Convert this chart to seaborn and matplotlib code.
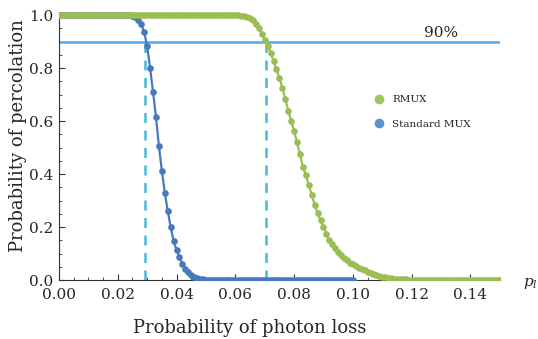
import numpy as np
import pandas as pd
import matplotlib
matplotlib.use("Agg")
import matplotlib.pyplot as plt
from matplotlib.lines import Line2D
import seaborn as sns

# photon loss grid (step 0.001)
loss_std = np.round(np.linspace(0.0, 0.10, 101), 3)
loss_rmux = np.round(np.linspace(0.0, 0.15, 151), 3)

# probability of percolation
perc_std = ([1.0] * 25 +
            [0.998, 0.993, 0.982, 0.966, 0.935, 0.882, 0.800, 0.710, 0.615,
             0.505, 0.412, 0.330, 0.260, 0.200, 0.148, 0.112, 0.088, 0.060,
             0.042, 0.030, 0.020, 0.012, 0.007, 0.004, 0.002, 0.001] +
            [0.0] * 50)
perc_rmux = ([1.0] * 61 +
             [0.999, 0.998, 0.996, 0.993, 0.988, 0.980, 0.968, 0.950, 0.930,
              0.908, 0.884, 0.858, 0.828, 0.796, 0.762, 0.726, 0.684, 0.640,
              0.600, 0.562, 0.520, 0.474, 0.428, 0.395, 0.358, 0.322, 0.285,
              0.252, 0.225, 0.200, 0.175, 0.152, 0.135, 0.120, 0.105, 0.094,
              0.083, 0.074, 0.066, 0.059, 0.053, 0.047, 0.042, 0.037, 0.032,
              0.027, 0.022, 0.018, 0.015, 0.012, 0.010, 0.008, 0.006, 0.005,
              0.004, 0.003, 0.002, 0.002, 0.001, 0.001] +
             [0.0] * 30)

target = 0.9
thresholds = [0.0293, 0.0704]
labels = ["RMUX", "Standard MUX"]
colors = {"RMUX": "#9bbd55", "Standard MUX": "#4a78bd"}
legend_colors = ["#a3c465", "#5d92cf"]

df = pd.concat([
    pd.DataFrame({"loss": loss_std, "perc": perc_std, "scheme": "Standard MUX"}),
    pd.DataFrame({"loss": loss_rmux, "perc": perc_rmux, "scheme": "RMUX"}),
])

sns.set_style("ticks")
plt.rcParams["font.family"] = ["DejaVu Serif"]
plt.rcParams["mathtext.fontset"] = "dejavuserif"

fig = plt.figure(figsize=(5.38, 3.39), dpi=100)
ax = fig.add_axes([0.1097, 0.174, 0.8193, 0.7906])

# blue first so the green curve sits on top along y = 1
sns.lineplot(data=df, x="loss", y="perc", hue="scheme",
             hue_order=["Standard MUX", "RMUX"], palette=colors,
             marker="o", markersize=4.8, markeredgewidth=0,
             linewidth=1.6, legend=False, ax=ax, zorder=3)

ax.axhline(target, color="#4ea8f0", linewidth=1.8, zorder=2)
ax.vlines(thresholds, 0, target, colors="#46b9d9", linestyles=(0, (4, 3)),
          linewidth=1.8, zorder=1)
ax.text(0.130, target + 0.008, "90%", fontsize=11, ha="center", va="bottom")

ax.set_xlim(0, 0.15)
ax.set_ylim(0, 1.012)
ax.set_xticks(np.arange(0, 0.151, 0.02))
ax.set_xticklabels([f"{v:.2f}" for v in np.arange(0, 0.151, 0.02)])
ax.set_yticks(np.arange(0, 1.01, 0.2))
ax.set_yticklabels([f"{v:.1f}" for v in np.arange(0, 1.01, 0.2)])
ax.set_xticks(np.arange(0, 0.151, 0.005), minor=True)
ax.set_yticks(np.arange(0, 1.01, 0.05), minor=True)
ax.tick_params(which="both", direction="in", labelsize=11, color="#333333")
ax.tick_params(which="major", length=4)
ax.tick_params(which="minor", length=2.5)
ax.tick_params(axis="x", which="major", pad=6)
ax.tick_params(axis="y", which="major", pad=4)
sns.despine(ax=ax)
for s in ["left", "bottom"]:
    ax.spines[s].set_color("#333333")

ax.set_xlabel("Probability of photon loss", fontsize=13)
ax.set_ylabel("Probability of percolation", fontsize=13)
ax.xaxis.set_label_coords(0.433, -0.145)
ax.yaxis.set_label_coords(-0.072, 0.539)
fig.text(0.973, 0.165, "$p_l$", fontsize=11, ha="left", va="center")

handles = [Line2D([], [], linestyle="none", marker="o", markersize=7,
                  markeredgewidth=0, color=c) for c in legend_colors]
ax.legend(handles, labels, loc="center left", bbox_to_anchor=(0.68, 0.627),
          frameon=False, fontsize=7.5, handletextpad=0.3, labelspacing=1.5)

fig.savefig("out.png", dpi=100)
